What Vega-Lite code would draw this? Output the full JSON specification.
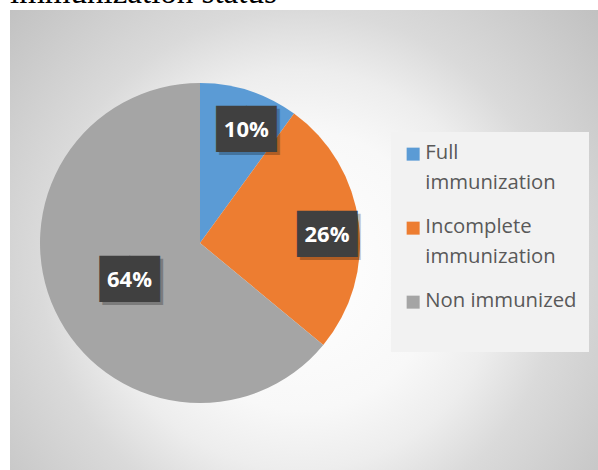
{
  "$schema": "https://vega.github.io/schema/vega-lite/v6.json",
  "padding": {"left": 10, "top": -23, "right": 0, "bottom": 0},
  "background": "#ffffff",
  "title": {"text": "immunization status", "font": "Liberation Serif", "fontSize": 33, "fontWeight": "normal", "color": "#000000", "anchor": "start", "baseline": "alphabetic", "offset": 2, "dy": 28},
  "datasets": {
    "imm": [
      {"status": "Full immunization", "share": 0.10},
      {"status": "Incomplete immunization", "share": 0.26},
      {"status": "Non immunized", "share": 0.64}
    ]
  },
  "spacing": 0,
  "resolve": {"scale": {"color": "independent"}, "legend": {"color": "independent"}},
  "config": {"view": {"stroke": null}, "concat": {"spacing": 0}},
  "hconcat": [
    {
      "width": 380,
      "height": 466,
      "view": {"stroke": null, "fill": {"gradient": "radial", "x1": 0.715, "y1": 0.558, "r1": 0, "x2": 0.715, "y2": 0.558, "r2": 0.858, "stops": [{"offset": 0, "color": "#ffffff"}, {"offset": 0.35, "color": "#f8f8f8"}, {"offset": 0.5, "color": "#ededed"}, {"offset": 0.65, "color": "#dadada"}, {"offset": 1, "color": "#c0c0c0"}]}},
      "data": {"name": "imm"},
      "encoding": {"theta": {"field": "share", "type": "quantitative", "stack": true}},
      "layer": [
        {
          "mark": {"type": "arc", "outerRadius": 160},
          "encoding": {"color": {"field": "status", "type": "nominal", "scale": {"domain": ["Full immunization", "Incomplete immunization", "Non immunized"], "range": ["#5B9BD5", "#ED7D31", "#A5A5A5"]}, "legend": null}}
        },
        {
          "mark": {"type": "text", "text": "██", "font": "DejaVu Sans", "fontSize": 39, "color": "#000000", "opacity": 0.25, "radius": {"expr": "datum.status === 'Non immunized' ? 79 : 124"}, "dx": {"expr": "3 + (datum.status === 'Full immunization' ? 8 : datum.status === 'Incomplete immunization' ? 4 : 1)"}, "dy": {"expr": "3 + (datum.status === 'Full immunization' ? 5 : datum.status === 'Incomplete immunization' ? 8 : 3)"}},
          "encoding": {"detail": {"field": "status", "type": "nominal"}}
        },
        {
          "mark": {"type": "text", "text": "██", "font": "DejaVu Sans", "fontSize": 39, "color": "#404040", "radius": {"expr": "datum.status === 'Non immunized' ? 79 : 124"}, "dx": {"expr": "datum.status === 'Full immunization' ? 8 : datum.status === 'Incomplete immunization' ? 4 : 1"}, "dy": {"expr": "datum.status === 'Full immunization' ? 5 : datum.status === 'Incomplete immunization' ? 8 : 3"}},
          "encoding": {"detail": {"field": "status", "type": "nominal"}}
        },
        {
          "mark": {"type": "text", "font": "Open Sans", "fontWeight": "bold", "fontSize": 22, "color": "#ffffff", "radius": {"expr": "datum.status === 'Non immunized' ? 79 : 124"}, "dx": {"expr": "datum.status === 'Full immunization' ? 8 : datum.status === 'Incomplete immunization' ? 4 : 1"}, "dy": {"expr": "datum.status === 'Full immunization' ? 5 : datum.status === 'Incomplete immunization' ? 8 : 3"}},
          "encoding": {"detail": {"field": "status", "type": "nominal"}, "text": {"field": "share", "type": "quantitative", "format": ".0%"}}
        }
      ]
    },
    {
      "width": 208,
      "height": 466,
      "view": {"stroke": null, "fill": {"gradient": "radial", "x1": 0.0837, "y1": 0.558, "r1": 0, "x2": 0.0837, "y2": 0.558, "r2": 0.858, "stops": [{"offset": 0, "color": "#ffffff"}, {"offset": 0.35, "color": "#f8f8f8"}, {"offset": 0.5, "color": "#ededed"}, {"offset": 0.65, "color": "#dadada"}, {"offset": 1, "color": "#c0c0c0"}]}},
      "data": {"name": "imm"},
      "mark": {"type": "point", "filled": true, "opacity": 0},
      "encoding": {
        "color": {
          "field": "status", "type": "nominal",
          "scale": {"domain": ["Full immunization", "Incomplete immunization", "Non immunized"], "range": ["#5B9BD5", "#ED7D31", "#A5A5A5"]},
          "legend": {"title": "\u00a0", "titleOrient": "bottom", "titleFontSize": 20, "titlePadding": 9, "orient": "none", "legendX": 1, "legendY": 122, "symbolType": "square", "symbolSize": 169, "symbolOpacity": 1, "symbolStrokeWidth": 0, "labelFont": "Open Sans", "labelFontSize": 20.3, "labelColor": "#595959", "labelOffset": 2, "rowPadding": 23, "padding": 12, "fillColor": "#f2f2f2", "labelBaseline": "top", "labelLimit": 300, "labelExpr": "datum.label == 'Non immunized' ? datum.label : split(datum.label, ' ')", "encode": {"labels": {"update": {"lineHeight": {"value": 30}, "dy": {"value": -11}}}}}
        }
      }
    }
  ]
}
